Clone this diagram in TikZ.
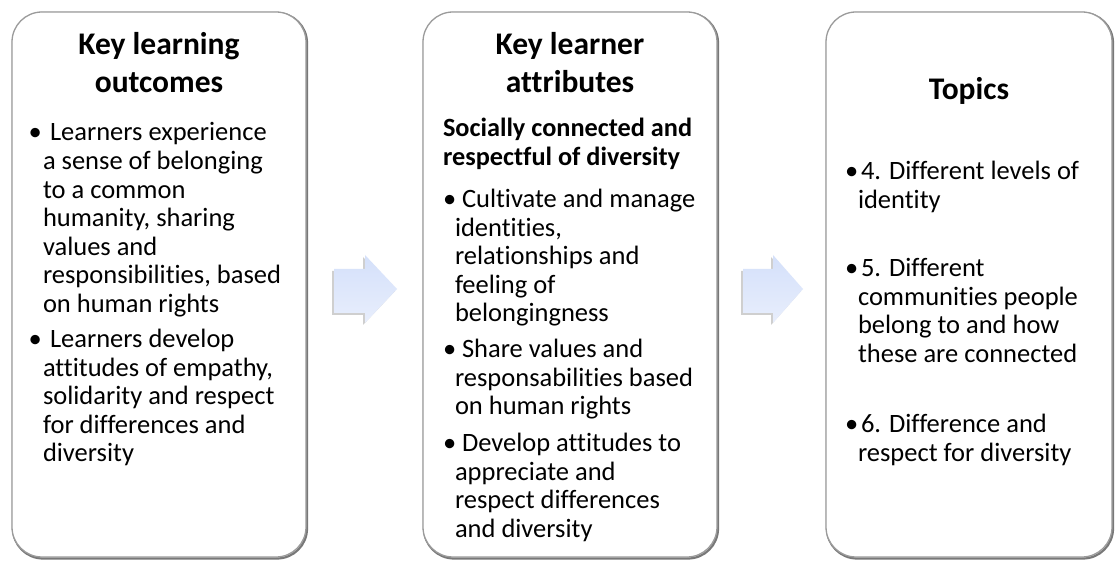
\documentclass[tikz,border=0pt]{standalone}
\usepackage{fontspec}
\setmainfont{Carlito}[Ligatures=NoCommon]
\tikzset{
  boxshade/.style={draw=shadeColor,line width=2.2pt,rounded corners=30pt},
  boxframe/.style={draw=frameColor,line width=1.3pt,fill=white,rounded corners=30pt},
  arrowshade/.style={fill=shadeColor,opacity=0.35},
  arrowbody/.style={top color=arrowTop,bottom color=arrowBottom,draw=none},
  headline/.style={text=drawColor,anchor=base,inner sep=0pt,outer sep=0pt,font=\fontsize{31.5}{38}\selectfont\bfseries},
  leadline/.style={text=drawColor,anchor=base west,inner sep=0pt,outer sep=0pt,font=\fontsize{26.3}{28.5}\selectfont\bfseries},
  bodyline/.style={text=drawColor,anchor=base west,inner sep=0pt,outer sep=0pt,font=\fontsize{26.5}{28.5}\selectfont}
}
\begin{document}
\begin{tikzpicture}[x=1pt,y=1pt]
\definecolor{fillColor}{RGB}{255,255,255}
\definecolor{drawColor}{RGB}{0,0,0}
\definecolor{frameColor}{RGB}{155,155,155}
\definecolor{shadeColor}{RGB}{120,120,120}
\definecolor{arrowTop}{RGB}{212,224,250}
\definecolor{arrowBottom}{RGB}{232,238,252}
\path[use as bounding box,fill=fillColor] (0,0) rectangle (1115,562);

% boxes
\path[boxshade] ( 13.00,  3.50) rectangle (307.00,549.00);
\path[boxframe] ( 12.00,  5.00) rectangle (306.00,550.00);

\path[boxshade] (424.00,  3.50) rectangle (718.00,549.00);
\path[boxframe] (423.00,  5.00) rectangle (717.00,550.00);

\path[boxshade] (827.00,  3.50) rectangle (1113.00,549.00);
\path[boxframe] (826.00,  5.00) rectangle (1112.00,550.00);

% arrows
\path[arrowshade] (332.00,247.00) -- (332.00,291.00) -- (363.00,291.00) -- (363.00,305.00) --
	(395.00,271.00) -- (363.00,237.00) -- (363.00,247.00) -- cycle;
\path[arrowbody] (334.00,249.00) -- (334.00,293.00) -- (365.00,293.00) -- (365.00,307.00) --
	(397.00,273.00) -- (365.00,239.00) -- (365.00,249.00) -- cycle;

\path[arrowshade] (741.00,247.00) -- (741.00,291.00) -- (771.00,291.00) -- (771.00,305.00) --
	(801.00,271.00) -- (771.00,237.00) -- (771.00,247.00) -- cycle;
\path[arrowbody] (743.00,249.00) -- (743.00,293.00) -- (773.00,293.00) -- (773.00,307.00) --
	(803.00,273.00) -- (773.00,239.00) -- (773.00,249.00) -- cycle;

% first box
\node[headline] (o0a) at (159.00,507.50) {Key learning};

\node[headline] (o0b) at (159.00,469.50) {outcomes};

\node[bodyline] (o1b) at ( 28.50,421.00) {•};

\node[bodyline] (o1) at ( 50.00,421.00) {Learners experience};

\node[bodyline] (o2) at ( 43.00,392.00) {a sense of belonging};

\node[bodyline] (o3) at ( 43.00,363.50) {to a common};

\node[bodyline] (o4) at ( 43.00,335.00) {humanity, sharing};

\node[bodyline] (o5) at ( 43.00,306.50) {values and};

\node[bodyline] (o6) at ( 43.00,278.00) {responsibilities, based};

\node[bodyline] (o7) at ( 43.00,249.50) {on human rights};

\node[bodyline] (o8b) at ( 28.50,214.00) {•};

\node[bodyline] (o8) at ( 50.00,214.00) {Learners develop};

\node[bodyline] (o9) at ( 43.00,185.50) {attitudes of empathy,};

\node[bodyline] (o10) at ( 43.00,157.00) {solidarity and respect};

\node[bodyline] (o11) at ( 43.00,128.50) {for differences and};

\node[bodyline] (o12) at ( 43.00,100.00) {diversity};

% second box
\node[headline] (a0a) at (570.00,507.50) {Key learner};

\node[headline] (a0b) at (570.00,469.50) {attributes};

\node[leadline] (s1) at (443.00,425.00) {Socially connected and};

\node[leadline] (s2) at (443.00,396.50) {respectful of diversity};

\node[bodyline] (a1b) at (443.00,354.00) {•};

\node[bodyline] (a1) at (462.00,354.00) {Cultivate and manage};

\node[bodyline] (a2) at (455.00,325.50) {identities,};

\node[bodyline] (a3) at (455.00,297.00) {relationships and};

\node[bodyline] (a4) at (455.00,268.50) {feeling of};

\node[bodyline] (a5) at (455.00,240.00) {belongingness};

\node[bodyline] (a6b) at (443.00,204.00) {•};

\node[bodyline] (a6) at (462.00,204.00) {Share values and};

\node[bodyline] (a7) at (455.00,175.50) {responsabilities based};

\node[bodyline] (a8) at (455.00,147.00) {on human rights};

\node[bodyline] (a9b) at (443.00,110.50) {•};

\node[bodyline] (a9) at (462.00,110.50) {Develop attitudes to};

\node[bodyline] (a10) at (455.00, 82.00) {appreciate and};

\node[bodyline] (a11) at (455.00, 53.50) {respect differences};

\node[bodyline] (a12) at (455.00, 25.00) {and diversity};

% third box
\node[headline] (t0) at (969.00,462.00) {Topics};

\node[bodyline] (t1b) at (845.00,382.00) {•};

\node[bodyline] (t1) at (861.00,382.00) {4. Different levels of};

\node[bodyline] (t2) at (858.00,353.50) {identity};

\node[bodyline] (t3b) at (845.00,285.00) {•};

\node[bodyline] (t3) at (861.00,285.00) {5. Different};

\node[bodyline] (t4) at (858.00,256.50) {communities people};

\node[bodyline] (t5) at (858.00,228.00) {belong to and how};

\node[bodyline] (t6) at (858.00,199.50) {these are connected};

\node[bodyline] (t7b) at (845.00,129.00) {•};

\node[bodyline] (t7) at (861.00,129.00) {6. Difference and};

\node[bodyline] (t8) at (858.00,100.50) {respect for diversity};
\end{tikzpicture}
\end{document}
